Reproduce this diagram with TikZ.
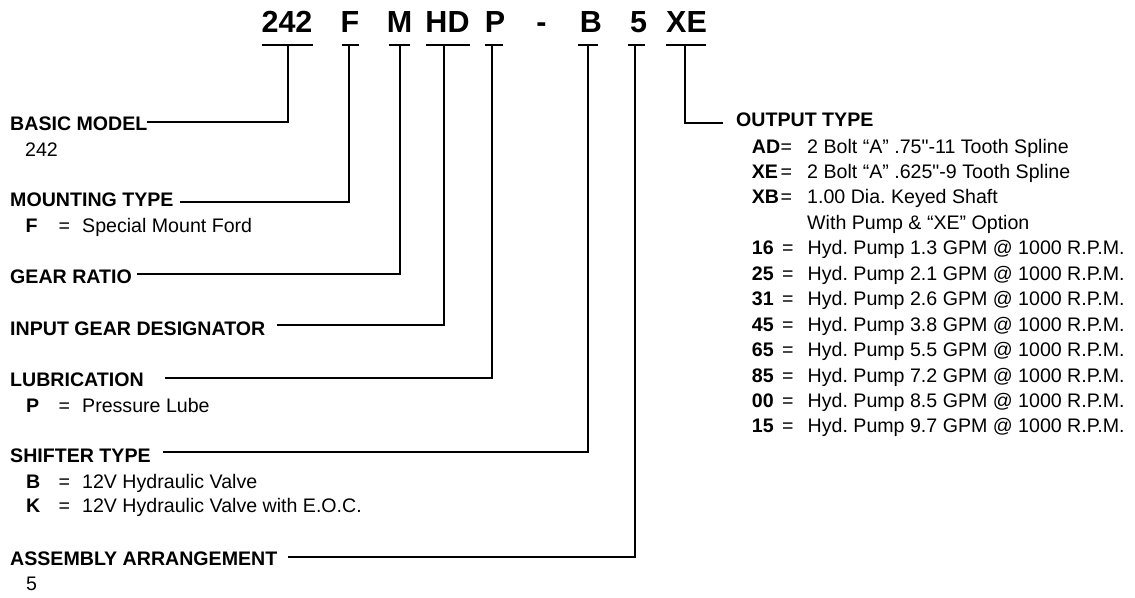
\documentclass[tikz,border=0pt]{standalone}
\usepackage{fontspec}
\newfontfamily\hv{Liberation Sans}
\tikzset{
  lbl/.style={anchor=base west, inner sep=0pt, font=\hv\fontsize{19.6}{22}\selectfont\bfseries},
  txt/.style={anchor=base west, inner sep=0pt, font=\hv\fontsize{19.6}{22}\selectfont},
  key/.style={anchor=base west, inner sep=0pt, font=\hv\fontsize{19.6}{22}\selectfont\bfseries},
  big/.style={anchor=base, inner sep=0pt, font=\hv\fontsize{30.5}{34}\selectfont\bfseries},
  wire/.style={line width=2pt},
}
\begin{document}
\frenchspacing
\begin{tikzpicture}[x=1pt,y=-1pt]
\fill[white] (0,0) rectangle (1135,597);
\useasboundingbox (0,0) rectangle (1135,597);

% ---- model code ----
\node[big] (c242) at (287,32.3) {242};
\node[big] (cF)   at (350,32.3) {F};
\node[big] (cM)   at (399.5,32.3) {M};
\node[big] (cHD)  at (447.5,32.3) {HD};
\node[big] (cP)   at (495,32.3) {P};
\node[big] (cdash) at (541.5,32.3) {-};
\node[big] (cB)   at (591,32.3) {B};
\node[big] (c5)   at (638.5,32.3) {5};
\node[big] (cXE)  at (686.5,32.3) {XE};

% ---- bars and their tap points ----
\foreach \n/\xl/\xr/\xv in {242/261.7/312.7/288.3, F/341.7/359.3/349.3, M/389/410/400,
  HD/425.7/470/444.3, P/485/503.3/491.7, B/578/598/587.7, 5/628/645/635, XE/665.7/705.7/685}{
  \coordinate (v\n) at (\xv,45);
  \draw[wire] (\xl,45) -- (\xr,45);
}

% ---- left labels ----
\node[lbl] (basic) at (10,130.5) {BASIC MODEL};
\node[txt] (basicv) at (25,156) {242};

\node[lbl] (mount) at (10,206.5) {MOUNTING TYPE};
\node[key] (mountk) at (25.5,232) {F};
\node[txt] (mounte) at (58.5,232) {=};
\node[txt] (mountv) at (82,232) {Special Mount Ford};

\node[lbl] (gear) at (10,283.5) {GEAR RATIO};

\node[lbl] (input) at (10,335.5) {INPUT GEAR DESIGNATOR};

\node[lbl] (lub) at (10,386) {LUBRICATION};
\node[key] (lubk) at (26,412) {P};
\node[txt] (lube) at (58.5,412) {=};
\node[txt] (lubv) at (82,412) {Pressure Lube};

\node[lbl] (shift) at (10,462.7) {SHIFTER TYPE};
\node[key] (shiftk1) at (26,488.5) {B};
\node[txt] (shifte1) at (58.5,488.5) {=};
\node[txt] (shiftv1) at (82,488.5) {12V Hydraulic Valve};
\node[key] (shiftk2) at (26,512) {K};
\node[txt] (shifte2) at (58.5,512) {=};
\node[txt] (shiftv2) at (82,512) {12V Hydraulic Valve with E.O.C.};

\node[lbl] (assy) at (10,565.7) {ASSEMBLY ARRANGEMENT};
\node[txt] (assyv) at (26,590) {5};

% ---- right labels ----
\node[lbl] (out) at (736,126.7) {OUTPUT TYPE};
\node[key] (k1) at (751.7,153) {AD};
\node[txt] (e1) at (780.5,153) {=};
\node[txt] (t1) at (807,153) {2 Bolt “A” .75"-11 Tooth Spline};
\node[key] (k2) at (751.7,178.45) {XE};
\node[txt] (e2) at (780.5,178.45) {=};
\node[txt] (t2) at (807,178.45) {2 Bolt “A” .625"-9 Tooth Spline};
\node[key] (k3) at (751.7,203.9) {XB};
\node[txt] (e3) at (780.5,203.9) {=};
\node[txt] (t3) at (807,203.9) {1.00 Dia. Keyed Shaft};
\node[txt] (t3b) at (807,229.35) {With Pump \& “XE” Option};
\foreach \c/\r/\g [count=\i] in {16/4/1.3, 25/5/2.1, 31/6/2.6, 45/7/3.8, 65/8/5.5, 85/9/7.2, 00/10/8.5, 15/11/9.7}{
  \node[key] (pk\i) at (751.7,153+\r*25.45) {\c};
  \node[txt] (pe\i) at (782,153+\r*25.45) {=};
  \node[txt] (pt\i) at (807.5,153+\r*25.45) {Hyd. Pump \g\ GPM @ 1000 R.P.M.};
}

% ---- connector ends ----
\coordinate (e242) at (147,121.7);
\coordinate (eF) at (180,202.3);
\coordinate (eM) at (137,274.3);
\coordinate (eHD) at (277,325);
\coordinate (eP) at (165,377.7);
\coordinate (eB) at (163,452);
\coordinate (e5) at (288,557);
\coordinate (eXE) at (723,122.7);

\draw[wire] (v242) |- (e242);
\draw[wire] (vF) |- (eF);
\draw[wire] (vM) |- (eM);
\draw[wire] (vHD) |- (eHD);
\draw[wire] (vP) |- (eP);
\draw[wire] (vB) |- (eB);
\draw[wire] (v5) |- (e5);
\draw[wire] (vXE) |- (eXE);
\end{tikzpicture}
\end{document}
